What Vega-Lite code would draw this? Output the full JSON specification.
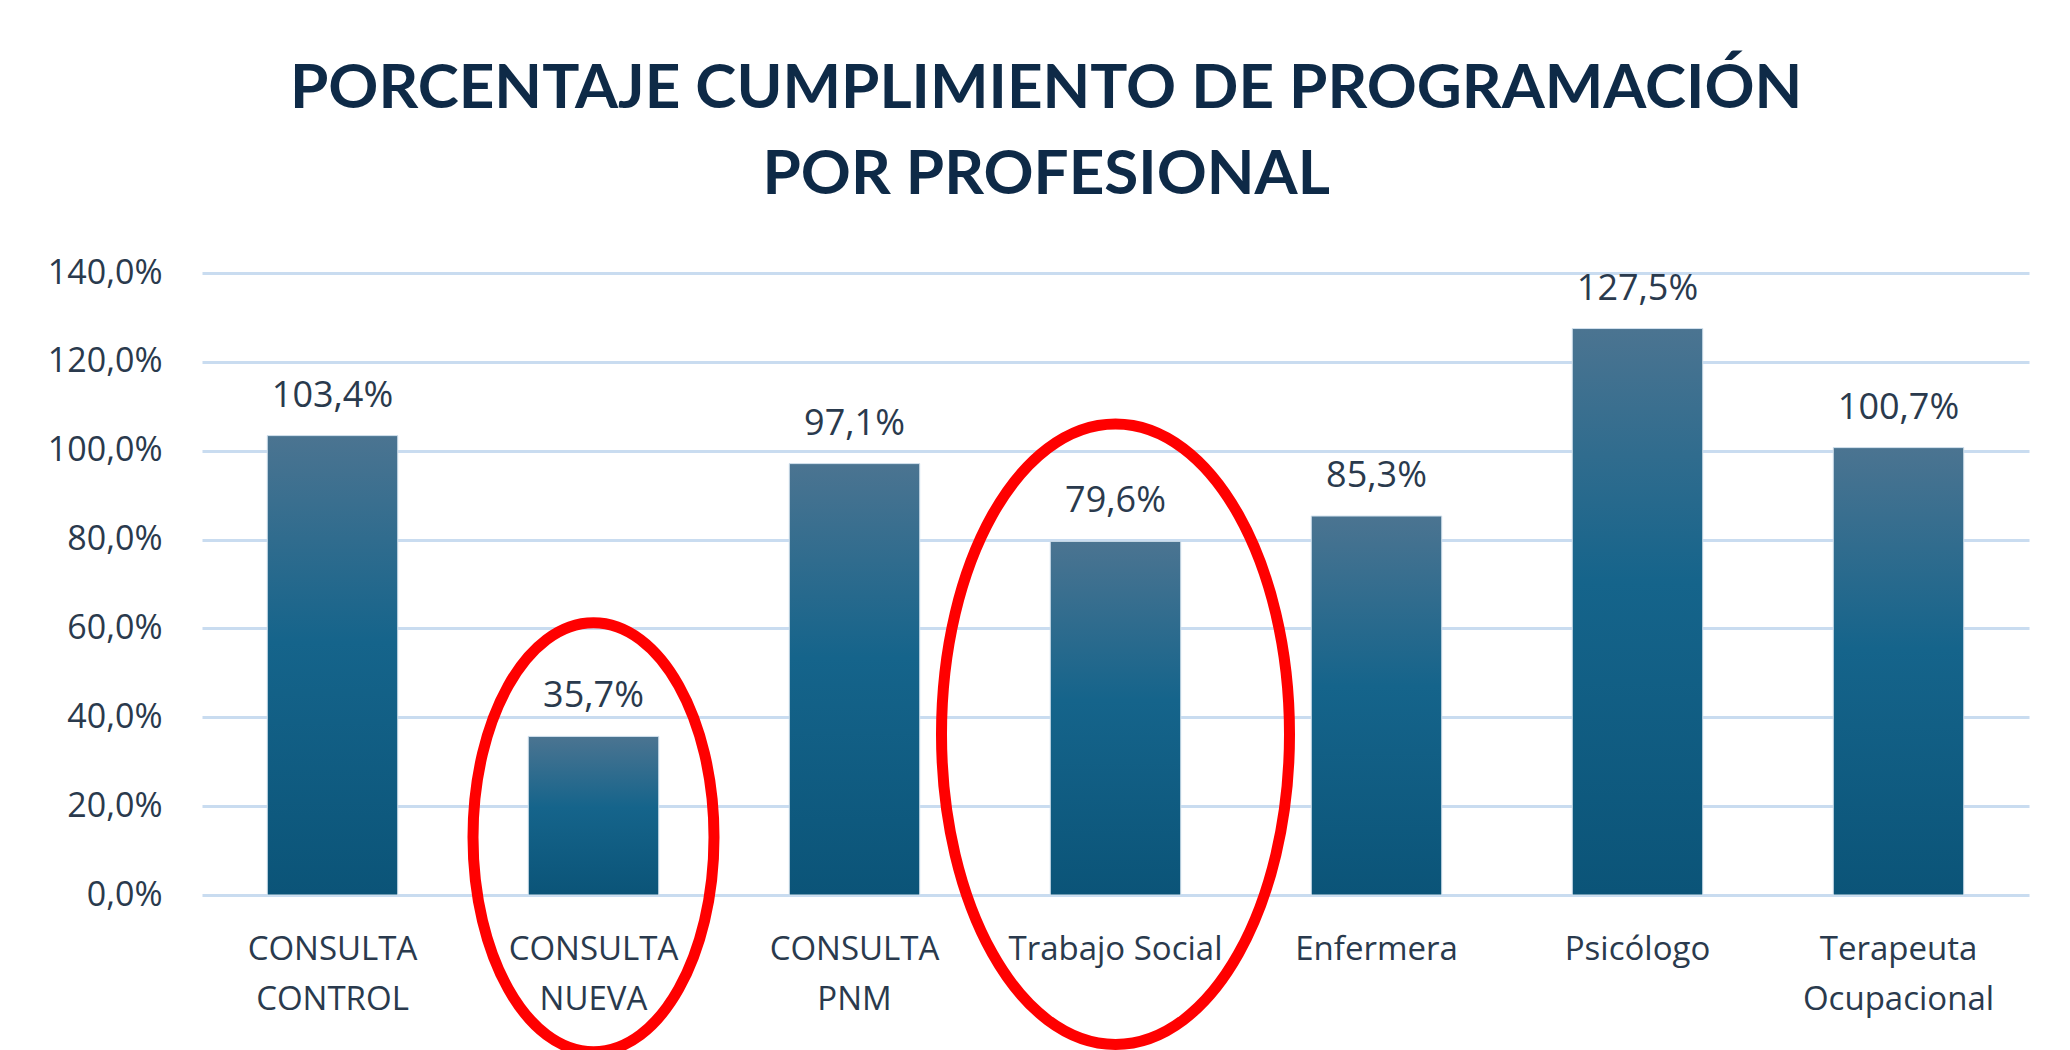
{
  "$schema": "https://vega.github.io/schema/vega-lite/v6.json",
  "width": 1827,
  "height": 622,
  "autosize": {"type": "none"},
  "padding": {"left": 202, "top": 273, "right": 41, "bottom": 155},
  "background": "white",
  "title": {
    "text": ["PORCENTAJE CUMPLIMIENTO DE PROGRAMACIÓN", "POR PROFESIONAL"],
    "anchor": "middle",
    "frame": "bounds",
    "font": "Lato",
    "fontSize": 62,
    "fontWeight": "bold",
    "color": "#0e2a47",
    "lineHeight": 86,
    "offset": 49,
    "dx": 8
  },
  "data": {
    "values": [
      {"profesional": "CONSULTA CONTROL", "pct": 103.4},
      {"profesional": "CONSULTA NUEVA", "pct": 35.7},
      {"profesional": "CONSULTA PNM", "pct": 97.1},
      {"profesional": "Trabajo Social", "pct": 79.6},
      {"profesional": "Enfermera", "pct": 85.3},
      {"profesional": "Psicólogo", "pct": 127.5},
      {"profesional": "Terapeuta Ocupacional", "pct": 100.7}
    ]
  },
  "encoding": {
    "x": {
      "field": "profesional",
      "type": "nominal",
      "sort": null,
      "scale": {"paddingInner": 0.5, "paddingOuter": 0.25},
      "axis": {
        "title": null,
        "labelAngle": 0,
        "ticks": false,
        "domain": false,
        "grid": false,
        "labelPadding": 38,
        "labelFont": "Open Sans",
        "labelFontSize": 33,
        "labelColor": "#2a3a4d",
        "labelLineHeight": 50,
        "labelLimit": 400,
        "labelExpr": "datum.label == 'Trabajo Social' ? datum.label : split(datum.label, ' ')"
      }
    }
  },
  "layer": [
    {
      "mark": {
        "type": "bar",
        "fill": {
          "gradient": "linear",
          "x1": 0, "y1": 0, "x2": 0, "y2": 1,
          "stops": [
            {"offset": 0, "color": "#4b7491"},
            {"offset": 0.45, "color": "#15648b"},
            {"offset": 1, "color": "#0b5478"}
          ]
        },
        "stroke": "#d3e2ee",
        "strokeWidth": 1
      },
      "encoding": {
        "y": {
          "field": "pct",
          "type": "quantitative",
          "scale": {"domain": [0, 140], "nice": false},
          "axis": {
            "title": null,
            "values": [0, 20, 40, 60, 80, 100, 120, 140],
            "ticks": false,
            "domain": false,
            "grid": true,
            "gridColor": "#c9dcf0",
            "gridWidth": 3,
            "labelPadding": 40,
            "labelFont": "Open Sans",
            "labelFontSize": 34,
            "labelColor": "#2a3a4d",
            "labelExpr": "replace(format(datum.value, '.1f'), '.', ',') + '%'"
          }
        }
      }
    },
    {
      "transform": [
        {"calculate": "replace(format(datum.pct, '.1f'), '.', ',') + '%'", "as": "etiqueta"}
      ],
      "mark": {
        "type": "text",
        "font": "Open Sans",
        "fontSize": 36,
        "color": "#2a3a4d",
        "baseline": "alphabetic",
        "dy": -29
      },
      "encoding": {
        "y": {"field": "pct", "type": "quantitative"},
        "text": {"field": "etiqueta"}
      }
    },
    {
      "transform": [{"filter": "datum.profesional == 'CONSULTA NUEVA'"}],
      "mark": {
        "type": "point",
        "shape": "M-1,0A1,1.78,0,1,1,1,0A1,1.78,0,1,1,-1,0Z",
        "size": 58081,
        "filled": false,
        "color": "#ff0000",
        "strokeWidth": 11,
        "opacity": 1
      },
      "encoding": {"y": {"datum": 13.0}}
    },
    {
      "transform": [{"filter": "datum.profesional == 'Trabajo Social'"}],
      "mark": {
        "type": "point",
        "shape": "M-1,0A1,1.783,0,1,1,1,0A1,1.783,0,1,1,-1,0Z",
        "size": 121104,
        "filled": false,
        "color": "#ff0000",
        "strokeWidth": 11,
        "opacity": 1
      },
      "encoding": {"y": {"datum": 36.2}}
    }
  ],
  "config": {
    "view": {"stroke": null}
  }
}
